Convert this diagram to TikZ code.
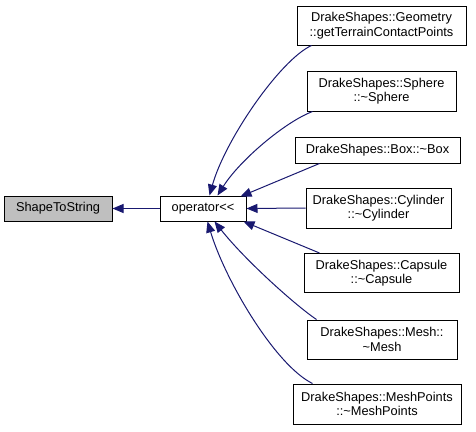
\documentclass[tikz,border=0pt]{standalone}
\usepackage{fontspec}
\setmainfont{Liberation Sans}
\usetikzlibrary{arrows.meta,calc}
\definecolor{edgeblue}{HTML}{191970}
\definecolor{grayfill}{HTML}{BFBFBF}
\begin{document}
\begin{tikzpicture}[x=1pt,y=-1pt,
  box/.style={draw=black,line width=1pt,fill=white,rectangle,inner sep=0pt,align=center,
    font=\fontsize{12.8}{14.5}\selectfont},
  edge/.style={draw=edgeblue,line width=1pt,-{Triangle[length=11pt,width=9pt]},
    shorten >=0pt}]
\useasboundingbox (0,0) rectangle (476,431);
\node[box,fill=grayfill,minimum width=108pt,minimum height=25pt] (sts) at (58,208.5) {ShapeToString};
\node[box,minimum width=86pt,minimum height=25pt] (op) at (203,208.5) {operator<{}<};
\node[box,minimum width=169pt,minimum height=39pt] (geo) at (381.5,25.5) {DrakeShapes::Geometry\\::getTerrainContactPoints};
\node[box,minimum width=149pt,minimum height=40pt] (sph) at (381.5,91) {DrakeShapes::Sphere\\::\textasciitilde Sphere};
\node[box,minimum width=165pt,minimum height=26pt] (bx) at (377.5,150) {DrakeShapes::Box::\textasciitilde Box};
\node[box,minimum width=145pt,minimum height=40pt] (cyl) at (378.5,208) {DrakeShapes::Cylinder\\::\textasciitilde Cylinder};
\node[box,minimum width=155pt,minimum height=39pt] (cap) at (381.5,273) {DrakeShapes::Capsule\\::\textasciitilde Capsule};
\node[box,minimum width=150pt,minimum height=39pt] (msh) at (382,339.5) {DrakeShapes::Mesh::\\\textasciitilde Mesh};
\node[box,minimum width=168pt,minimum height=40pt] (mpt) at (377,404) {DrakeShapes::MeshPoints\\::\textasciitilde MeshPoints};
% edges
\draw[edge] (op.west) -- (sts.east);
\draw[edge] ($(geo.south west)+(15,0)$) .. controls (280,60) and (225,140) .. ($(op.north west)+(50,0)$);
\draw[edge] ($(sph.south west)+(6,0)$) .. controls (285,122) and (240,160) .. ($(op.north west)+(58,0)$);
\draw[edge] ($(bx.south west)+(25,0)$) -- ($(op.north east)+(-6,1)$);
\draw[edge] (cyl.west) -- (op.east);
\draw[edge] ($(cap.north west)+(16,0)$) -- ($(op.south east)+(-3,0)$);
\draw[edge] ($(msh.north west)+(10,0)$) .. controls (295,305) and (245,260) .. ($(op.south west)+(55,0)$);
\draw[edge] ($(mpt.north west)+(20,0)$) .. controls (275,365) and (225,280) .. ($(op.south west)+(48,0)$);
\end{tikzpicture}
\end{document}
